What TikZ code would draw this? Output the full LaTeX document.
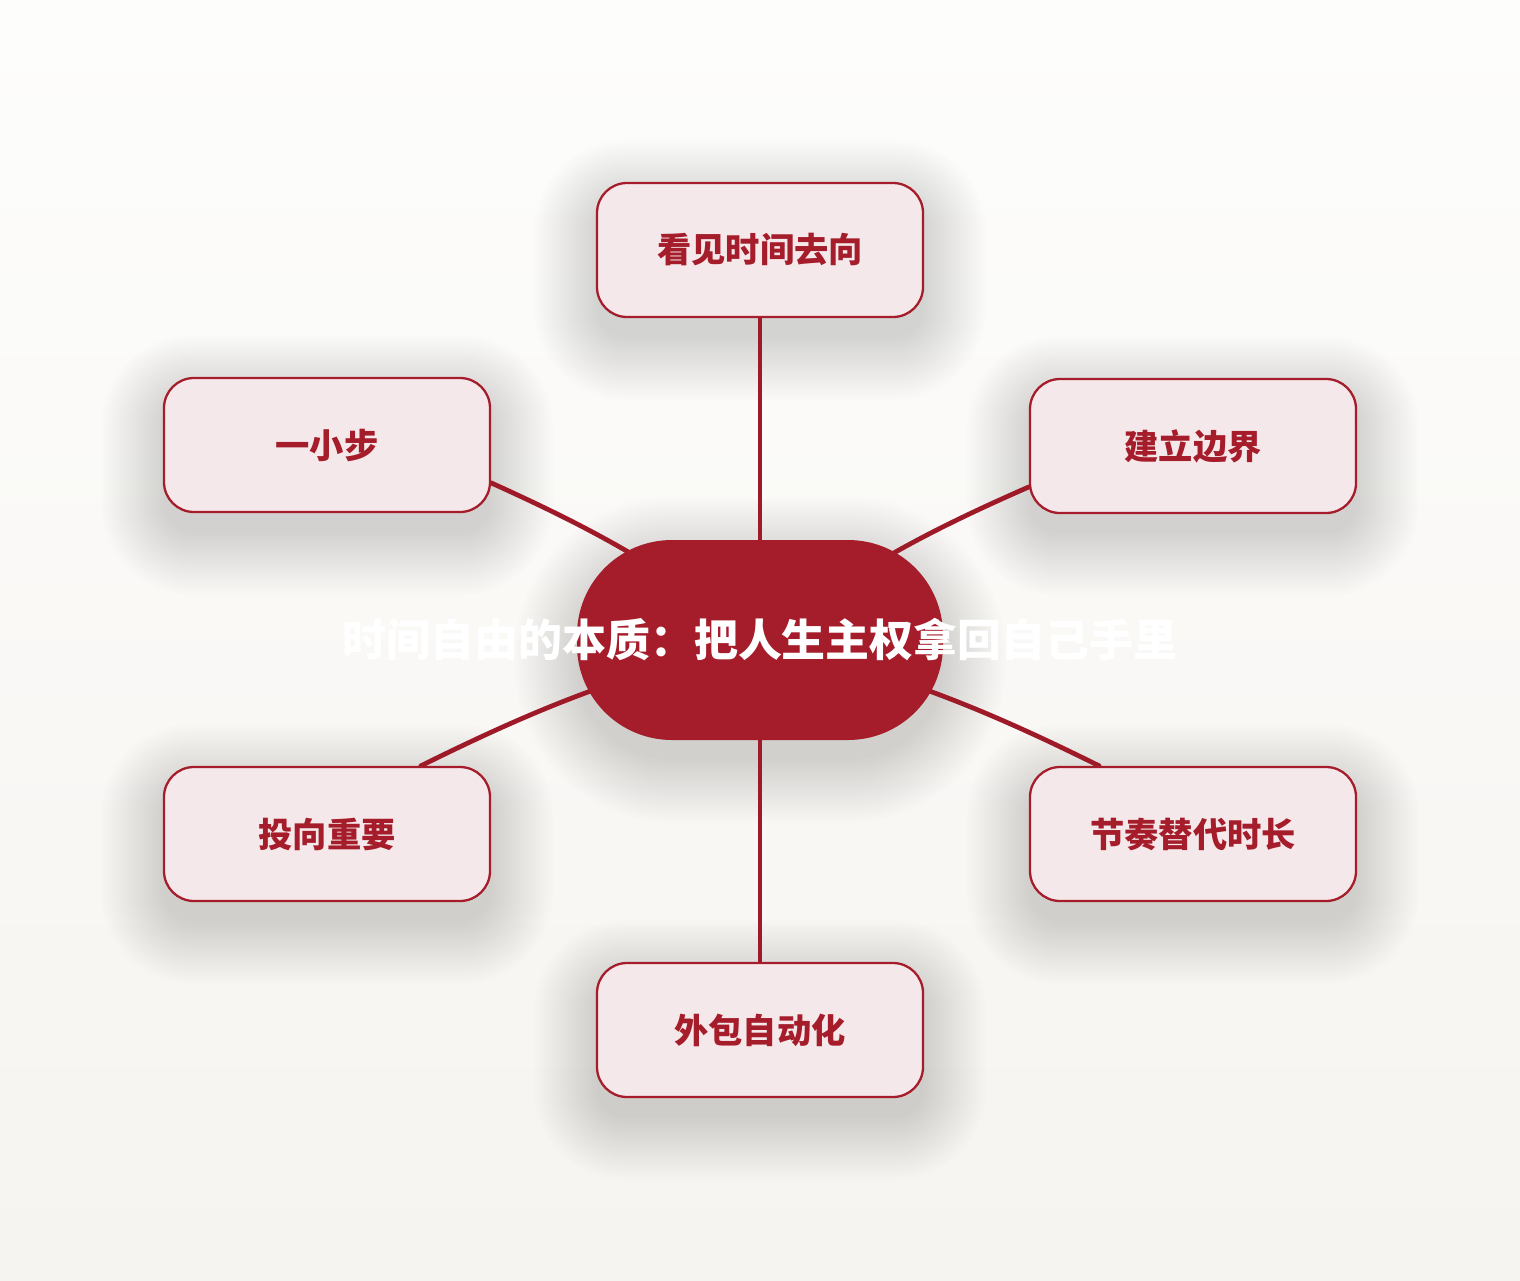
\documentclass[tikz,border=0pt]{standalone}
\usepackage{fontspec}
\setmainfont{Noto Sans CJK SC}
\usepackage{tikz}
\usetikzlibrary{calc}
\usetikzlibrary{positioning}
\definecolor{corered}{HTML}{A51C2A}
\definecolor{linkred}{HTML}{9E1A28}
\definecolor{leaffill}{HTML}{F5E8EA}
\definecolor{bgtop}{HTML}{FDFDFC}
\definecolor{bgbottom}{HTML}{F6F4F0}
\pgfdeclarelayer{back}
\pgfdeclarelayer{links}
\pgfsetlayers{back,links,main}

\begin{document}
\begin{tikzpicture}[
        core node/.style={fill=corered, text=white, inner sep=0pt,
        minimum width=7.32cm, minimum height=4cm, rounded corners=1.9cm,
        font=\fontsize{25}{30}\selectfont\bfseries},
        leaf node/.style={draw=corered, line width=1.3pt, fill=leaffill,
        text=corered, minimum width=6.52cm, minimum height=2.68cm,
        rounded corners=0.6cm, font=\fontsize{19.5}{23}\selectfont\bfseries},
        link line/.style={draw=linkred, line width=2.7pt, line cap=round},
        shadow layer/.style={fill=black, opacity=0.008}
        ]
        \useasboundingbox (0,0) rectangle (30.4,-25.6);

        % centre
        \node[core node] (core) at (15.2,-12.8)
            {\makebox[0pt]{时间自由的本质：把人生主权拿回自己手里}};

        % branches
        \node[leaf node] (see)     at (15.2,-5.0)   {看见时间去向};
        \node[leaf node] (step)    at (6.54,-8.9)   {一小步};
        \node[leaf node] (bound)   at (23.86,-8.92) {建立边界};
        \node[leaf node] (invest)  at (6.54,-16.68) {投向重要};
        \node[leaf node] (rhythm)  at (23.86,-16.68) {节奏替代时长};
        \node[leaf node] (outsrc)  at (15.2,-20.6)  {外包自动化};

        \begin{pgfonlayer}{back}
            \fill[top color=bgtop, bottom color=bgbottom] (0,0) rectangle (30.4,-25.6);
            % soft shadows
            \foreach \nd/\rad in {see/0.6,step/0.6,bound/0.6,invest/0.6,rhythm/0.6,outsrc/0.6,core/1.9}{
                \foreach \k in {0,...,19}{
                    \pgfmathsetmacro\grow{\k*0.065}
                    \pgfmathsetmacro\arc{\rad+\grow}
                    \fill[shadow layer, rounded corners=\arc cm]
                        ($(\nd.south west)+(-\grow,-0.4-\grow)$) rectangle
                        ($(\nd.north east)+(\grow,-0.4+\grow)$);
                }
            }
        \end{pgfonlayer}

        \begin{pgfonlayer}{links}
            \draw[link line] (see.south) -- (core.center);
            \draw[link line] (outsrc.north) -- (core.center);
            \draw[link line] (step.-13) to[bend left=6] (core.center);
            \draw[link line] (bound.194) to[bend right=6] (core.center);
            \draw[link line] (invest.36) to[bend left=6] (core.center);
            \draw[link line] (rhythm.144) to[bend right=6] (core.center);
        \end{pgfonlayer}

    \end{tikzpicture}
\end{document}
